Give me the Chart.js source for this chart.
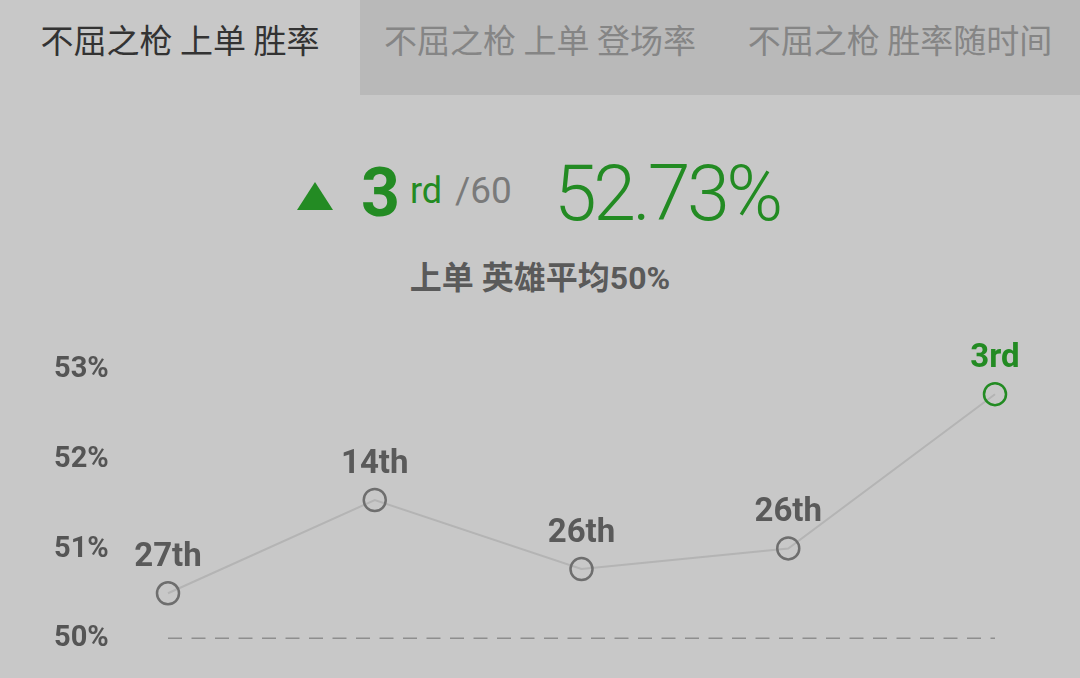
<!DOCTYPE html>
<html>
<head>
<meta charset="utf-8">
<script src="https://cdn.jsdelivr.net/npm/chart.js@4"></script>
<style>
  html, body { margin: 0; padding: 0; }
  body {
    width: 1080px; height: 678px; overflow: hidden; position: relative;
    background: #c8c8c8;
    font-family: Roboto, "Noto Sans CJK SC", sans-serif;
  }
  .tabs { position: absolute; left: 0; top: 0; width: 1080px; height: 95px; display: flex; }
  .tab {
    width: 360px; height: 95px; box-sizing: border-box; padding-top: 17px;
    text-align: center; font-family: "Noto Sans CJK SC", sans-serif;
    font-size: 33px; line-height: 44px; color: #858585; background: #b9b9b9;
  }
  .tab.active { background: #c8c8c8; color: #333; }
  .abs { position: absolute; line-height: 1; white-space: nowrap; }
  #tri {
    position: absolute; left: 297px; top: 182px; width: 0; height: 0;
    border-left: 18px solid transparent; border-right: 18px solid transparent;
    border-bottom: 28px solid #238b23;
  }
  #chart-wrapper { position: absolute; left: 0; top: 300px; width: 1080px; height: 378px; }
</style>
</head>
<body>
<div class="tabs">
  <div class="tab active">不屈之枪 上单 胜率</div>
  <div class="tab">不屈之枪 上单 登场率</div>
  <div class="tab">不屈之枪 胜率随时间</div>
</div>

<div id="tri"></div>
<div class="abs" style="left:361px; top:159px; font-size:68px; font-weight:700; color:#238b23;">3</div>
<div class="abs" style="left:410px; top:173px; font-size:36px; color:#238b23;">rd</div>
<div class="abs" style="left:455px; top:172px; font-size:37px; color:#7a7a7a;">/60</div>
<div class="abs" style="left:554px; top:156px; font-size:77px; font-weight:300; letter-spacing:-3.4px; color:#238b23;">52.73%</div>
<div class="abs" style="left:0; width:1080px; text-align:center; top:262px; font-size:32px; font-weight:700; color:#5a5a5a;">上单 英雄平均50%</div>

<div id="chart-wrapper"><canvas id="winChart"></canvas></div>

<script>
const periods = ['1', '2', '3', '4', '5'];
const winRates = [50.51, 51.55, 50.78, 51.01, 52.73];
const rankLabels = ['27th', '14th', '26th', '26th', '3rd'];
const averageRate = [50, 50, 50, 50, 50];
const yTicks = [50, 51, 52, 53];

const gray = '#6e6e6e';
const green = '#238b23';
const pointColors = rankLabels.map((r, i) => i === rankLabels.length - 1 ? green : gray);

// rank text above each point
const rankLabelPlugin = {
    id: 'rankLabels',
    afterDatasetsDraw(chart) {
        const ctx = chart.ctx;
        const meta = chart.getDatasetMeta(1);
        ctx.save();
        ctx.font = 'bold 33px Roboto';
        ctx.textAlign = 'center';
        ctx.textBaseline = 'alphabetic';
        meta.data.forEach((pt, i) => {
            ctx.fillStyle = i === rankLabels.length - 1 ? green : '#5a5a5a';
            ctx.fillText(rankLabels[i], pt.x, pt.y - 27);
        });
        ctx.restore();
    }
};

document.addEventListener('DOMContentLoaded', function () {
    const ctx = document.getElementById('winChart').getContext('2d');

    new Chart(ctx, {
        type: 'line',
        data: {
            labels: periods,
            datasets: [{
                label: 'avg',
                data: averageRate,
                borderColor: '#8e8e8e',
                borderWidth: 3,
                borderDash: [14, 9.5],
                pointRadius: 0,
                fill: false
            }, {
                label: 'win',
                data: winRates,
                borderColor: '#b4b4b4',
                borderWidth: 2,
                pointRadius: 11,
                pointBorderWidth: 2.5,
                pointBackgroundColor: 'rgba(0,0,0,0)',
                pointBorderColor: pointColors,
                tension: 0,
                fill: false
            }]
        },
        options: {
            responsive: true,
            maintainAspectRatio: false,
            animation: false,
            layout: { padding: { left: 54, right: 85, top: 70, bottom: 39 } },
            scales: {
                x: { display: false, offset: false },
                y: {
                    min: 50,
                    max: 53,
                    afterFit(scale) { scale.width = 114; },
                    afterBuildTicks(scale) { scale.ticks = yTicks.map(v => ({ value: v })); },
                    grid: { display: false },
                    border: { display: false },
                    ticks: {
                        crossAlign: 'far',
                        padding: 0,
                        color: '#555',
                        font: { family: 'Roboto', size: 29, weight: 'bold' },
                        callback: v => v + '%'
                    }
                }
            },
            plugins: {
                legend: { display: false },
                tooltip: { enabled: false }
            }
        },
        plugins: [rankLabelPlugin]
    });
});
</script>
</body>
</html>
